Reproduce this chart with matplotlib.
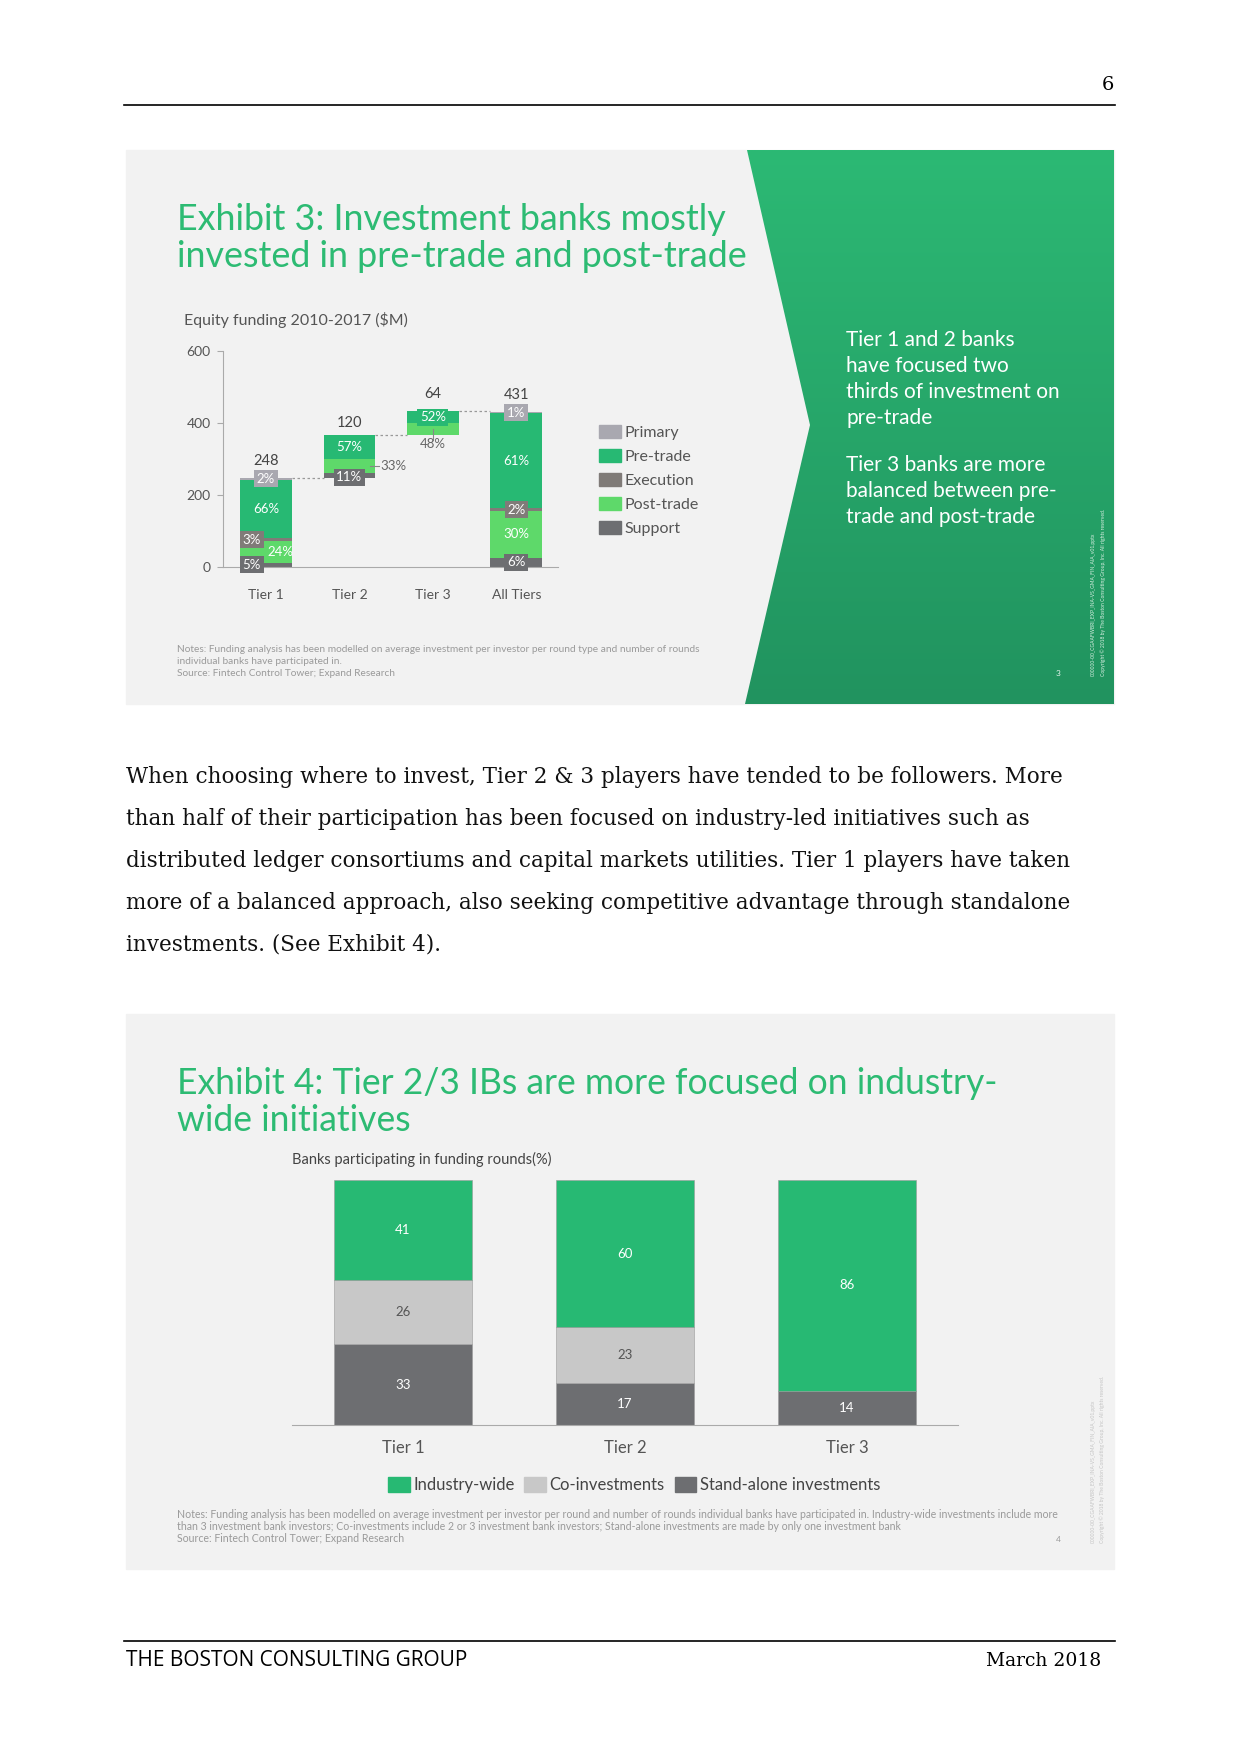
import numpy as np
import matplotlib.pyplot as plt
from matplotlib.patches import Rectangle, Polygon, Patch
from matplotlib.colors import LinearSegmentedColormap

W, H = 1240, 1754

# Exhibit 3: equity funding waterfall ($M), shares in % of each bar
wf_categories = ["Tier 1", "Tier 2", "Tier 3", "All Tiers"]
wf_totals = [248, 120, 64, 431]
support = [5, 11, 0, 6]
post_trade = [24, 33, 48, 30]
execution = [3, 0, 0, 2]
pre_trade = [66, 57, 52, 61]
primary = [2, 0, 0, 1]
wf_yticks = [0, 200, 400, 600]

# Exhibit 4: banks participating in funding rounds (%)
tiers = ["Tier 1", "Tier 2", "Tier 3"]
stand_alone = [33, 17, 14]
co_invest = [26, 23, 0]
industry_wide = [41, 60, 86]

GREEN = "#27b973"
LGREEN = "#5ed96a"
DGRAY = "#6d6e71"
EXEC = "#807b78"
PRIM = "#a9a8b0"
TITLE_GREEN = "#2dbb73"
SANS = "Lato"
SERIF = "DejaVu Serif"

fig = plt.figure(figsize=(12.4, 17.54), dpi=100)
fig.patch.set_facecolor("white")

# page layer in pixel coordinates
bg = fig.add_axes([0, 0, 1, 1])
bg.axis("off")

bg.plot([124, 1115], [105, 105], color="black", lw=1.2)
bg.text(1108, 85, "6", ha="center", va="center", fontsize=14, family=SERIF)

# exhibit 3 panel
bg.add_patch(Rectangle((126, 150), 988, 554, color="#f2f2f2", zorder=0))
cmap = LinearSegmentedColormap.from_list("g", ["#2cb974", "#21935f"])
im = bg.imshow(np.linspace(0, 1, 256).reshape(-1, 1), extent=(740, 1114, 704, 150),
               cmap=cmap, aspect="auto", zorder=1)
arrow = Polygon([(747, 150), (1114, 150), (1114, 704), (745, 704), (810, 425)],
                closed=True, transform=bg.transData)
im.set_clip_path(arrow)

bg.text(177, 238, "Exhibit 3: Investment banks mostly\ninvested in pre-trade and post-trade",
        color=TITLE_GREEN, fontsize=25.8, family=SANS, va="center", linespacing=1.13, zorder=3)
bg.text(184, 320, "Equity funding 2010-2017 ($M)", color="#555555", fontsize=11.5,
        family=SANS, va="center", zorder=3)
bg.text(846, 379, "Tier 1 and 2 banks\nhave focused two\nthirds of investment on\npre-trade",
        color="white", fontsize=15, family=SANS, va="center", linespacing=1.36, zorder=3)
bg.text(846, 491, "Tier 3 banks are more\nbalanced between pre-\ntrade and post-trade",
        color="white", fontsize=15, family=SANS, va="center", linespacing=1.36, zorder=3)
notes3 = ["Notes: Funding analysis has been modelled on average investment per investor per round type and number of rounds",
          "individual banks have participated in.",
          "Source: Fintech Control Tower; Expand Research"]
for i, line in enumerate(notes3):
    bg.text(177, 649 + 12.5 * i, line, color="#9a9a9a", fontsize=7.3, family=SANS,
            va="center", zorder=3)
bg.text(1058, 674, "3", color="#e8f5ee", fontsize=6, family=SANS, ha="center", va="center", zorder=3)
bg.text(1093, 676, "000000-00_CGAAFWBRI_EXP_INA-VS_GMA_FIN_AIA_v01.pptx", color="#d8efe2",
        fontsize=3.6, family=SANS, rotation=90, ha="center", va="bottom", zorder=3)
bg.text(1103, 676, "Copyright \u00a9 2018 by The Boston Consulting Group, Inc. All rights reserved.",
        color="#d8efe2", fontsize=3.6, family=SANS, rotation=90, ha="center", va="bottom", zorder=3)

# body text
body = ["When choosing where to invest, Tier 2 & 3 players have tended to be followers. More",
        "than half of their participation has been focused on industry-led initiatives such as",
        "distributed ledger consortiums and capital markets utilities. Tier 1 players have taken",
        "more of a balanced approach, also seeking competitive advantage through standalone",
        "investments. (See Exhibit 4)."]
for i, line in enumerate(body):
    bg.text(126, 777 + 42 * i, line, fontsize=15.5, family=SERIF, va="center", color="#111111")

# exhibit 4 panel
bg.add_patch(Rectangle((126, 1014), 988, 555, color="#f2f2f2", zorder=0))
bg.text(177, 1102, "Exhibit 4: Tier 2/3 IBs are more focused on industry-\nwide initiatives",
        color=TITLE_GREEN, fontsize=25.6, family=SANS, va="center", linespacing=1.14, zorder=3)
bg.text(292, 1159, "Banks participating in funding rounds(%)", color="#444444", fontsize=10.5,
        family=SANS, va="center", zorder=3)
notes4 = ["Notes: Funding analysis has been modelled on average investment per investor per round and number of rounds individual banks have participated in. Industry-wide investments include more",
          "than 3 investment bank investors; Co-investments include 2 or 3 investment bank investors; Stand-alone investments are made by only one investment bank",
          "Source: Fintech Control Tower; Expand Research"]
for i, line in enumerate(notes4):
    bg.text(177, 1514 + 12.5 * i, line, color="#9a9a9a", fontsize=7.6, family=SANS,
            va="center", zorder=3)
bg.text(1058, 1539, "4", color="#999999", fontsize=6, family=SANS, ha="center", va="center", zorder=3)
bg.text(1093, 1543, "000000-00_CGAAFWBRI_EXP_INA-VS_GMA_FIN_AIA_v01.pptx", color="#c4c4c4",
        fontsize=3.6, family=SANS, rotation=90, ha="center", va="bottom", zorder=3)
bg.text(1102, 1543, "Copyright \u00a9 2018 by The Boston Consulting Group, Inc. All rights reserved.",
        color="#c4c4c4", fontsize=3.6, family=SANS, rotation=90, ha="center", va="bottom", zorder=3)

# footer
bg.plot([124, 1115], [1641, 1641], color="black", lw=1.2)
bg.text(126, 1661, "THE BOSTON CONSULTING GROUP", fontsize=15, family="Open Sans", va="center")
bg.text(1101, 1661, "March 2018", fontsize=13.5, family=SERIF, ha="right", va="center")

bg.set_xlim(0, W)
bg.set_ylim(H, 0)


def rect(l, t, r, b):
    return [l / W, 1 - b / H, (r - l) / W, (b - t) / H]


# ---- Exhibit 3 waterfall ----
ax = fig.add_axes(rect(223, 351, 558, 567))
ax.set_facecolor("none")
x = np.arange(len(wf_categories))
bw = 0.62
seg_lists = [support, post_trade, execution, pre_trade, primary]
seg_colors = [DGRAY, LGREEN, EXEC, GREEN, PRIM]

bases = []
run = 0
for i, t in enumerate(wf_totals):
    if i == len(wf_totals) - 1:
        bases.append(0)
    else:
        bases.append(run)
        run += t

for i in range(len(x)):
    shares = [s[i] for s in seg_lists]
    tot = sum(shares)
    bottom = bases[i]
    for k, (sh, col) in enumerate(zip(shares, seg_colors)):
        if sh == 0:
            continue
        h = wf_totals[i] * sh / tot
        ax.bar(x[i], h, bw, bottom=bottom, color=col, zorder=2)
        mid = bottom + h / 2
        lab = f"{sh}%"
        small = sh <= 11
        dx = 0
        if i == 0 and k in (0, 2):
            dx = -0.17
        if i == 0 and k == 1:
            dx = 0.17
        if k == 0 and i == 1:
            mid = bottom + 1
        if i == 1 and k == 1:
            ax.plot([x[i] + 0.25, x[i] + 0.36], [mid, mid], color="#888888", lw=0.8, zorder=3)
            ax.text(x[i] + 0.37, mid, lab, ha="left", va="center", fontsize=9.5, color="#666666",
                    family=SANS, zorder=4)
        elif i == 2 and k == 1:
            ax.plot([x[i], x[i]], [mid, bottom - 14], color="#888888", lw=0.8, zorder=3)
            ax.text(x[i], bottom - 27, lab, ha="center", va="center", fontsize=9.5, color="#666666",
                    family=SANS, zorder=4)
        elif small or (i == 2 and k == 3):
            ax.text(x[i] + dx, mid, lab, ha="center", va="center", fontsize=9.5, color="white",
                    family=SANS, zorder=4, clip_on=False,
                    bbox=dict(boxstyle="square,pad=0.2", fc=col, ec="none"))
        else:
            ax.text(x[i] + dx, mid, lab, ha="center", va="center", fontsize=9.5, color="white",
                    family=SANS, zorder=4)
        bottom += h
    # total above the bar (a bit higher where a label box sits on top)
    off = 12 if i == 1 else 17
    ax.annotate(str(wf_totals[i]), (x[i], bases[i] + wf_totals[i]), xytext=(0, off),
                textcoords="offset pixels", ha="center", va="center", fontsize=10.5,
                color="#444444", family=SANS)

# dotted connectors
for i in range(len(x) - 1):
    lvl = bases[i] + wf_totals[i]
    ax.plot([x[i] + bw / 2, x[i + 1] - bw / 2], [lvl, lvl], color="#999999", lw=0.9,
            ls=(0, (2, 2)), zorder=1)

ax.set_xlim(-0.515, 3.5)
ax.set_ylim(0, 600)
ax.set_xticks(x)
ax.set_xticklabels(wf_categories, fontsize=10, color="#555555", family=SANS)
ax.set_yticks(wf_yticks)
ax.set_yticklabels([str(v) for v in wf_yticks], fontsize=10, color="#555555", family=SANS)
ax.tick_params(axis="x", length=0, pad=16)
ax.tick_params(axis="y", length=4, color="#aaaaaa", pad=5)
for s in ["top", "right"]:
    ax.spines[s].set_visible(False)
ax.spines["left"].set_color("#aaaaaa")
ax.spines["bottom"].set_color("#aaaaaa")

leg_handles = [Patch(color=PRIM, label="Primary"), Patch(color=GREEN, label="Pre-trade"),
               Patch(color=EXEC, label="Execution"), Patch(color=LGREEN, label="Post-trade"),
               Patch(color=DGRAY, label="Support")]
fig.legend(handles=leg_handles, loc="upper left", bbox_to_anchor=(591 / W, 1 - 417 / H),
           frameon=False, prop={"family": SANS, "size": 11.5}, labelcolor="#555555",
           borderpad=0, handlelength=1.35, handleheight=0.9, handletextpad=0.25,
           labelspacing=0.55)

# ---- Exhibit 4 stacked bars ----
ax2 = fig.add_axes(rect(292, 1180, 958, 1425))
ax2.set_facecolor("none")
x2 = np.arange(len(tiers))
bw2 = 0.625
bot = np.zeros(len(tiers))
for vals, col, lab, tc in [(stand_alone, DGRAY, "Stand-alone investments", "white"),
                           (co_invest, "#c8c8c8", "Co-investments", "#555555"),
                           (industry_wide, GREEN, "Industry-wide", "white")]:
    ax2.bar(x2, vals, bw2, bottom=bot, color=col, label=lab, edgecolor="#9a9a9a",
            linewidth=0.4, zorder=2)
    for j, v in enumerate(vals):
        if v > 0:
            ax2.text(x2[j], bot[j] + v / 2, str(v), ha="center", va="center", fontsize=9.5,
                     color=tc, family=SANS, zorder=3)
    bot += np.array(vals)

ax2.set_xlim(-0.5, 2.5)
ax2.set_ylim(0, 100)
ax2.set_yticks([])
ax2.set_xticks(x2)
ax2.set_xticklabels(tiers, fontsize=12, color="#555555", family=SANS)
ax2.tick_params(axis="x", length=0, pad=11)
for s in ["top", "right", "left"]:
    ax2.spines[s].set_visible(False)
ax2.spines["bottom"].set_color("#aaaaaa")

h4 = [Patch(color=GREEN, label="Industry-wide"), Patch(color="#c8c8c8", label="Co-investments"),
      Patch(color=DGRAY, label="Stand-alone investments")]
fig.legend(handles=h4, loc="center", bbox_to_anchor=(634 / W, 1 - 1485 / H), ncol=3,
           frameon=False, prop={"family": SANS, "size": 12}, labelcolor="#444444",
           handlelength=1.3, handleheight=1.05, handletextpad=0.2, columnspacing=0.6)

fig.savefig("out.png", dpi=100)
